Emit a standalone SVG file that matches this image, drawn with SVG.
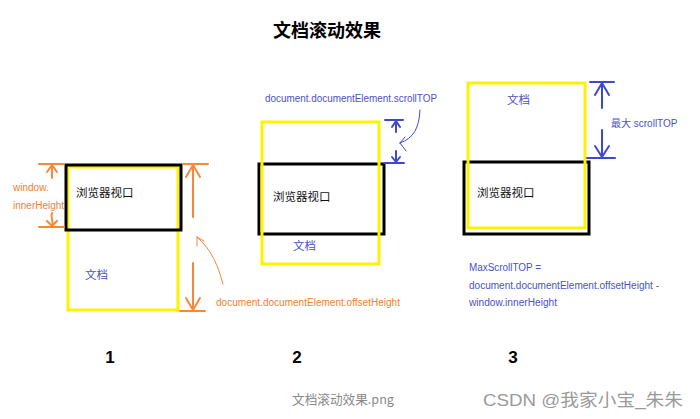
<svg xmlns="http://www.w3.org/2000/svg" width="700" height="419" viewBox="0 0 700 419">
<style>
.vp{fill:none;stroke:#000;stroke-width:3}
.doc{fill:none;stroke:#FFF200;stroke-width:3}
.o{stroke:#F7883A;stroke-width:2;fill:none;stroke-linecap:round;stroke-linejoin:round}
.ot{stroke:#F7883A;stroke-width:1;fill:none;stroke-linecap:round}
.b{stroke:#3F48CC;stroke-width:2;fill:none;stroke-linecap:round;stroke-linejoin:round}
.bt{stroke:#3F48CC;stroke-width:1;fill:none;stroke-linecap:round}
.lat{font-family:"Liberation Sans","Noto Sans CJK SC",sans-serif;font-size:10px}
.cn{font-family:"Noto Sans CJK SC",sans-serif;font-size:11.5px}
.ol{fill:#F07F34}
.bl{fill:#4A52C8}
.blk{fill:#111}
.num{font-family:"Liberation Sans",sans-serif;font-size:17px;font-weight:bold;fill:#000;text-anchor:middle}
</style>
<rect width="700" height="419" fill="#fff"/>

<g id="title">
<text x="327" y="37" text-anchor="middle" style="font-family:'Noto Sans CJK SC',sans-serif;font-size:18px;font-weight:bold" fill="#000">文档滚动效果</text>
</g>

<g id="diagram1">
<rect class="doc" x="68" y="167" width="110" height="143"/>
<rect class="vp" x="66" y="165" width="115" height="65"/>
<text class="cn blk" x="76" y="197">浏览器视口</text>
<text class="cn bl" x="85" y="279">文档</text>
<text class="lat ol" x="13" y="191">window.</text>
<text class="lat ol" x="13" y="209">innerHeight</text>
<text class="lat ol" x="216" y="306" textLength="184" lengthAdjust="spacingAndGlyphs">document.documentElement.offsetHeight</text>
<text class="num" x="110" y="363">1</text>
</g>

<g id="diagram2">
<rect class="vp" x="259" y="164" width="125" height="70"/>
<rect class="doc" x="262" y="122" width="117" height="142"/>
<text class="cn blk" x="273" y="201">浏览器视口</text>
<text class="cn bl" x="293" y="250">文档</text>
<text class="lat bl" x="265" y="102" textLength="172" lengthAdjust="spacingAndGlyphs">document.documentElement.scrollTOP</text>
<text class="num" x="297" y="363">2</text>
</g>

<g id="diagram3">
<rect class="vp" x="464" y="162" width="125" height="72"/>
<rect class="doc" x="468" y="83" width="117" height="145"/>
<text class="cn bl" x="507" y="104">文档</text>
<text class="cn blk" x="477" y="197">浏览器视口</text>
<text class="lat bl" x="611" y="127">最大 scrollTOP</text>
<text class="lat bl" x="469" y="271" textLength="72" lengthAdjust="spacingAndGlyphs">MaxScrollTOP =</text>
<text class="lat bl" x="469" y="289" textLength="190" lengthAdjust="spacingAndGlyphs">document.documentElement.offsetHeight -</text>
<text class="lat bl" x="469" y="306" textLength="88" lengthAdjust="spacingAndGlyphs">window.innerHeight</text>
<text class="num" x="513" y="363">3</text>
</g>

<g id="connectors">
<line class="o" x1="39" y1="164" x2="64" y2="164"/>
<line class="o" x1="52" y1="165" x2="52" y2="178"/>
<polyline class="o" points="47,172 52,165 57,172"/>
<line class="o" x1="39" y1="227" x2="64" y2="227"/>
<path class="o" d="M52,213 C50,217 54,220 52,226"/>
<polyline class="o" points="47,221 52,226 57,221"/>
<line class="o" x1="183" y1="164" x2="208" y2="164"/>
<line class="o" x1="193" y1="165" x2="193" y2="217"/>
<polyline class="o" points="186,177 193,165 200,177"/>
<line class="o" x1="193" y1="263" x2="193" y2="310"/>
<polyline class="o" points="186,298 193,310 200,298"/>
<line class="o" x1="180" y1="311" x2="205" y2="311"/>
<path class="ot" d="M223,284 C218,266 212,250 197,237"/>
<path class="ot" d="M197,237 L197,246 M197,237 L204,241"/>
<line class="b" x1="385" y1="120" x2="403" y2="120"/>
<line class="b" x1="396" y1="121" x2="396" y2="132"/>
<polyline class="b" points="392,127 396,121 400,127"/>
<line class="b" x1="384" y1="163" x2="404" y2="163"/>
<line class="b" x1="396" y1="151" x2="396" y2="162"/>
<polyline class="b" points="392,157 396,162 400,157"/>
<path class="bt" d="M420,110 C419,128 414,138 400,143"/>
<path class="bt" d="M400,143 L405,137 M400,143 L406,151"/>
<line class="b" x1="590" y1="82" x2="614" y2="82"/>
<line class="b" x1="602" y1="83" x2="602" y2="108"/>
<polyline class="b" points="595,95 602,83 609,95"/>
<line class="b" x1="602" y1="130" x2="602" y2="157"/>
<polyline class="b" points="595,146 602,157 609,146"/>
<line class="b" x1="587" y1="158" x2="615" y2="158"/>
</g>

<g id="caption">
<text x="292" y="404" style="font-family:'Noto Sans CJK SC',sans-serif;font-size:13px" fill="#8a8a8a" textLength="102" lengthAdjust="spacingAndGlyphs">文档滚动效果.png</text>
<text x="483" y="406" style="font-family:'Liberation Sans','Noto Sans CJK SC',sans-serif;font-size:17px" fill="#9a9a9a" textLength="200" lengthAdjust="spacingAndGlyphs">CSDN @我家小宝_朱朱</text>
</g>
</svg>
